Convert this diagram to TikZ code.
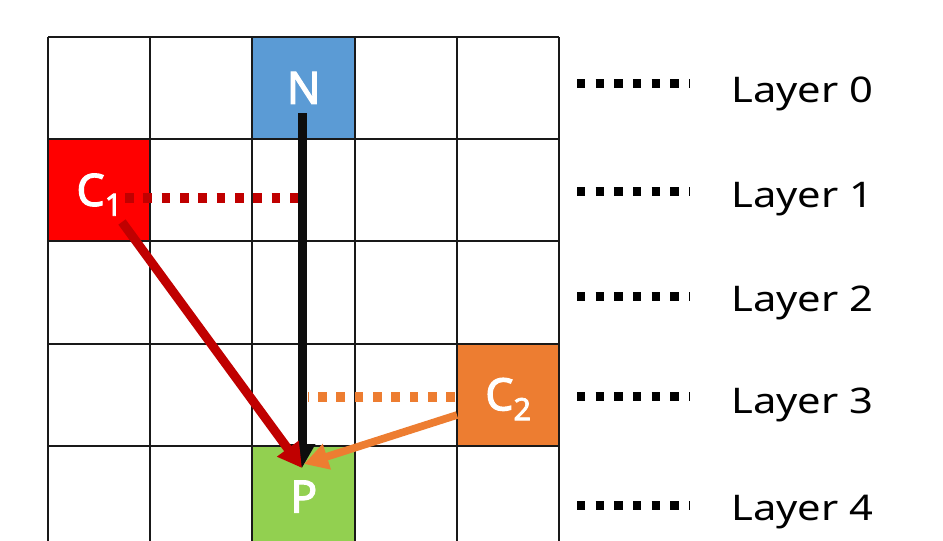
\documentclass[tikz,border=0pt]{standalone}
\usepackage{fontspec}
\setmainfont{Noto Sans}
\newfontfamily\lblfont[FakeBold=2.5]{Noto Sans}
\usetikzlibrary{arrows.meta}
\definecolor{nblue}{HTML}{5B9BD5}
\definecolor{cred}{HTML}{FF0000}
\definecolor{dred}{HTML}{C00000}
\definecolor{corange}{HTML}{ED7D31}
\definecolor{pgreen}{HTML}{92D050}
\begin{document}
\begin{tikzpicture}[x=0.75pt,y=-0.75pt,
  cell/.style={draw=none, minimum width=76.65pt, minimum height=76.65pt, inner sep=0pt, anchor=north west,
    text=white, font=\lblfont\fontsize{33.5}{33.5}\selectfont, text height=23pt, text depth=0pt},
  gridline/.style={line width=1.5pt, draw=black!90},
  layertxt/.style={anchor=base west, inner sep=0pt, font=\fontsize{26.5}{26.5}\selectfont},
  legdots/.style={line width=6.75pt, dash pattern=on 6.25pt off 7.75pt},
  cdots/.style={line width=7pt, dash pattern=on 6.5pt off 7.25pt},
  bigarrow/.style={-{Triangle[length=18pt,width=19pt]}}
]
\useasboundingbox (0,0) rectangle (943,540);
\clip (0,0) rectangle (943,540);
% coloured cells
\node[cell, fill=nblue] (N) at (252.4,37) {N};
\node[cell, fill=cred] (C1) at (48,139.2) {C\raisebox{-0.22em}{\fontsize{23}{23}\selectfont 1}};
\node[cell, fill=corange] (C2) at (456.8,343.6) {C\raisebox{-0.22em}{\fontsize{23}{23}\selectfont 2}};
\node[cell, fill=pgreen] (P) at (252.4,445.8) {P};
% grid
\foreach \x in {48,150.2,252.4,354.6,456.8,559} \draw[gridline] (\x,37) -- (\x,560);
\foreach \y in {37,139.2,241.4,343.6,445.8} \draw[gridline] (48,\y) -- (559,\y);
% legend
\foreach \i/\yd/\yb in {0/83.5/102,1/191.7/207,2/296/311,3/396.7/413,4/505/520} {
  \coordinate (d\i a) at (577,\yd);
  \coordinate (d\i b) at (689.5,\yd);
  \draw[legdots] (d\i a) -- (d\i b);
  \node[layertxt] (L\i) at (731,\yb) {\scalebox{1.18}[1]{Layer \i}};
}
% anchor points
\coordinate (Ns) at (302,113);
\coordinate (Pt) at (302,468);
\coordinate (C1s) at (122,222);
\coordinate (C1d) at (125,198);
\coordinate (C1e) at (300,198);
\coordinate (C2s) at (457,415);
\coordinate (C2t) at (304,464);
\coordinate (C2d) at (455,397);
\coordinate (C2e) at (308,397);
% dotted projections
\draw[cdots, dred] (C1d) -- (C1e);
\draw[cdots, corange] (C2d) -- (C2e);
% arrows
\draw[bigarrow, line width=6.75pt, black!95] (Ns) -- (Pt);
\draw[bigarrow, line width=5.75pt, corange] (C2s) -- (C2t);
\draw[bigarrow, line width=6.75pt, dred] (C1s) -- (Pt);
\end{tikzpicture}
\end{document}
